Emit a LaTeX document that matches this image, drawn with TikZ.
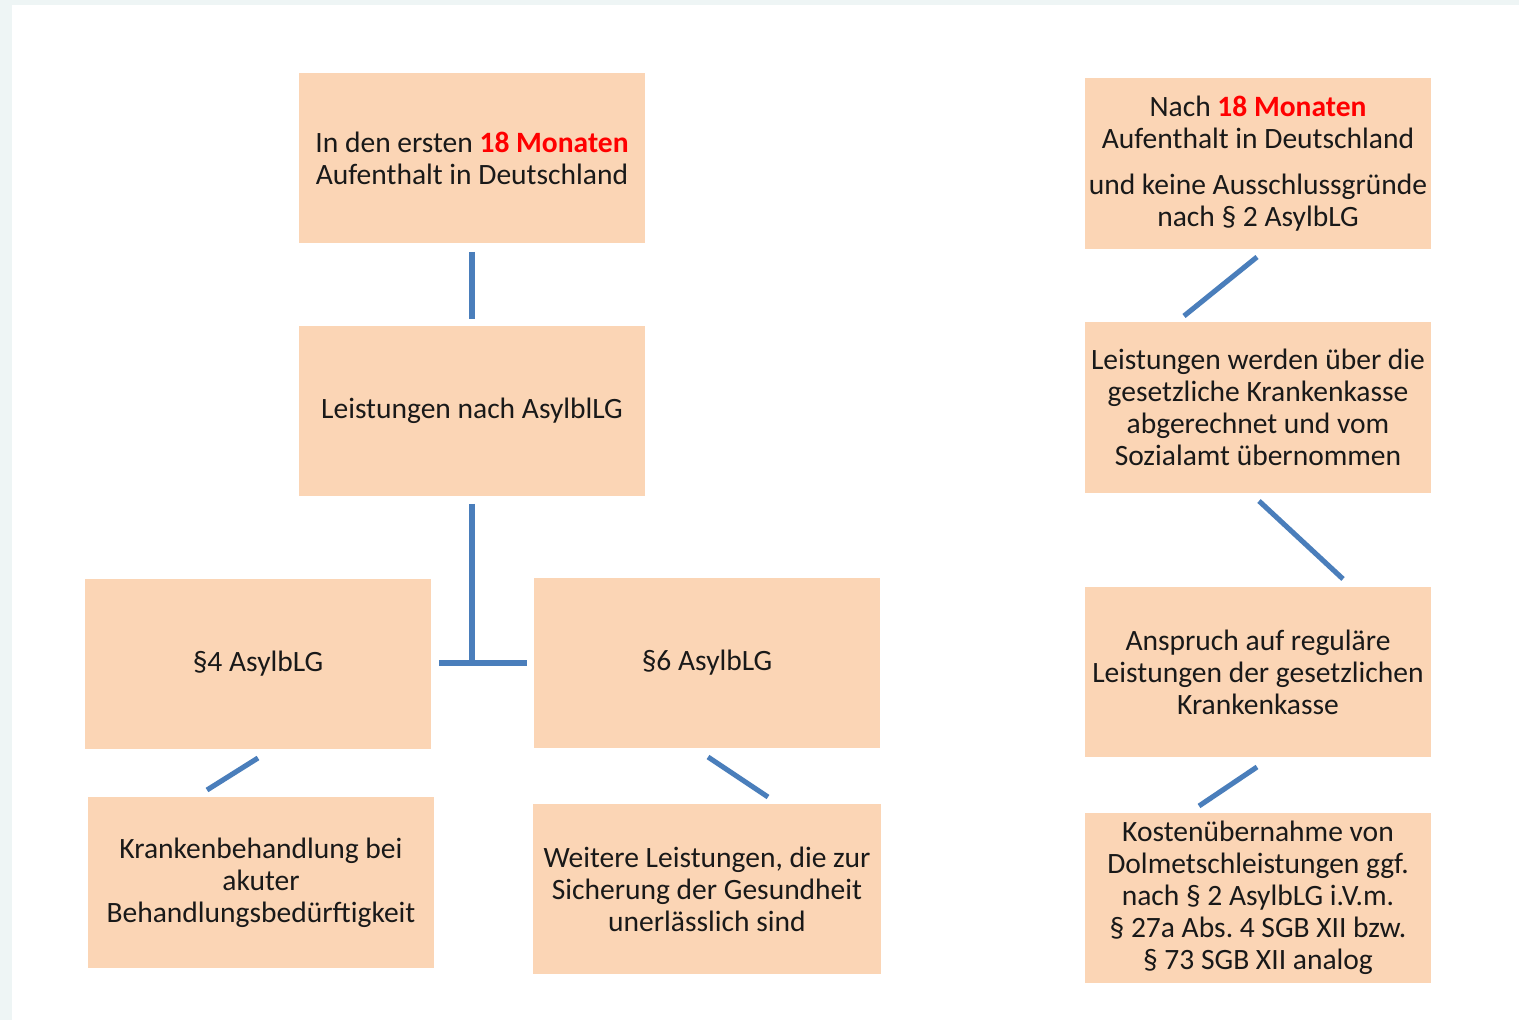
\documentclass[tikz,border=0pt]{standalone}
\usepackage{fontspec}
\setmainfont{Carlito}
\frenchspacing
\definecolor{boxfill}{HTML}{FBD5B5}
\definecolor{linkblue}{HTML}{4A7EBB}
\definecolor{redtxt}{HTML}{FF0000}
\definecolor{edgebg}{HTML}{EEF5F5}
\begin{document}
\begin{tikzpicture}[x=0.02cm,y=-0.02cm,
  box/.style={fill=boxfill,inner sep=0pt,minimum width=6.92cm,minimum height=3.42cm,
    align=center,font=\fontsize{16.8pt}{18.2pt}\selectfont,text=black!90},
  link/.style={draw=linkblue,line width=2.9pt}]
\useasboundingbox (0,0) rectangle (1519,1020);
\fill[white] (0,0) rectangle (1519,1020);
\fill[edgebg] (0,0) rectangle (12,1020);
\fill[edgebg] (0,0) rectangle (1519,5);
\fill[white] (12,5) rectangle (1519,1020);

\node[box] (A) at (472,158) {In den ersten \textcolor{redtxt}{\textbf{18 Monaten}}\\Aufenthalt in Deutschland};
\node[box] (B) at (472,411) {\raisebox{-2pt}{Leistungen nach AsylblLG}};
\node[box] (C) at (258,664) {\raisebox{-2pt}{§4 AsylbLG}};
\node[box] (D) at (707,663) {\raisebox{-2pt}{§6 AsylbLG}};
\node[box] (E) at (261,882.5) {Krankenbehandlung bei\\akuter\\Behandlungsbedürftigkeit};
\node[box,minimum width=6.96cm] (F) at (707,889) {Weitere Leistungen, die zur\\Sicherung der Gesundheit\\unerlässlich sind};
\node[box] (G) at (1258,163.5) {Nach \textcolor{redtxt}{\textbf{18 Monaten}}\\Aufenthalt in Deutschland\\[8pt]und keine Ausschlussgründe\\nach § 2 AsylbLG};
\node[box] (H) at (1258,407.5) {Leistungen werden über die\\gesetzliche Krankenkasse\\abgerechnet und vom\\Sozialamt übernommen};
\node[box] (I) at (1258,672) {Anspruch auf reguläre\\Leistungen der gesetzlichen\\Krankenkasse};
\node[box] (J) at (1258,898) {Kostenübernahme von\\Dolmetschleistungen ggf.\\nach § 2 AsylbLG i.V.m.\\§ 27a Abs. 4 SGB XII bzw.\\§ 73 SGB XII analog};

% connector end points
\coordinate (a1) at (472,252);
\coordinate (b1) at (472,319);
\coordinate (b2) at (472,504);
\coordinate (tj) at (472,663);
\coordinate (tl) at (439,663);
\coordinate (tr) at (527,663);
\coordinate (c1) at (258,758);
\coordinate (e1) at (207,790);
\coordinate (d1) at (708,757);
\coordinate (f1) at (768,797);
\coordinate (g1) at (1257,257);
\coordinate (h1) at (1184,316);
\coordinate (h2) at (1259,501);
\coordinate (i1) at (1343,579);
\coordinate (i2) at (1257,767);
\coordinate (j1) at (1199,806);

\draw[link] (a1) -- (b1);
\draw[link] (b2) -- (tj);
\draw[link] (tl) -- (tr);
\draw[link] (c1) -- (e1);
\draw[link] (d1) -- (f1);
\draw[link] (g1) -- (h1);
\draw[link] (h2) -- (i1);
\draw[link] (i2) -- (j1);
\end{tikzpicture}
\end{document}
